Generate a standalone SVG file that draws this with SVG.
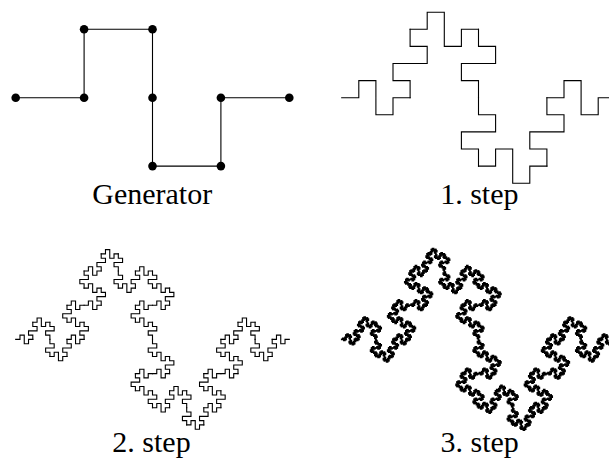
<svg xmlns="http://www.w3.org/2000/svg" xmlns:xlink="http://www.w3.org/1999/xlink" width="609" height="462" viewBox="0 0 609 462">
<style>
.curve{fill:none;stroke:#000;stroke-linecap:square;stroke-linejoin:miter}
.dot{fill:#000}
.lbl{font-family:"Liberation Serif","Times New Roman",serif;font-size:30px;fill:#000;text-anchor:middle}
</style>
<defs>
<path id="c1" d="M0 0h.25v-.25h.25v.5h.25v-.25h.25"/>
<g id="c2">
<use href="#c1" transform="scale(.25)"/>
<use href="#c1" transform="translate(.25 0) rotate(-90) scale(.25)"/>
<use href="#c1" transform="translate(.25 -.25) scale(.25)"/>
<use href="#c1" transform="translate(.5 -.25) rotate(90) scale(.25)"/>
<use href="#c1" transform="translate(.5 0) rotate(90) scale(.25)"/>
<use href="#c1" transform="translate(.5 .25) scale(.25)"/>
<use href="#c1" transform="translate(.75 .25) rotate(-90) scale(.25)"/>
<use href="#c1" transform="translate(.75 0) scale(.25)"/>
</g>
<g id="c3">
<use href="#c2" transform="scale(.25)"/>
<use href="#c2" transform="translate(.25 0) rotate(-90) scale(.25)"/>
<use href="#c2" transform="translate(.25 -.25) scale(.25)"/>
<use href="#c2" transform="translate(.5 -.25) rotate(90) scale(.25)"/>
<use href="#c2" transform="translate(.5 0) rotate(90) scale(.25)"/>
<use href="#c2" transform="translate(.5 .25) scale(.25)"/>
<use href="#c2" transform="translate(.75 .25) rotate(-90) scale(.25)"/>
<use href="#c2" transform="translate(.75 0) scale(.25)"/>
</g>
<g id="c4">
<use href="#c3" transform="scale(.25)"/>
<use href="#c3" transform="translate(.25 0) rotate(-90) scale(.25)"/>
<use href="#c3" transform="translate(.25 -.25) scale(.25)"/>
<use href="#c3" transform="translate(.5 -.25) rotate(90) scale(.25)"/>
<use href="#c3" transform="translate(.5 0) rotate(90) scale(.25)"/>
<use href="#c3" transform="translate(.5 .25) scale(.25)"/>
<use href="#c3" transform="translate(.75 .25) rotate(-90) scale(.25)"/>
<use href="#c3" transform="translate(.75 0) scale(.25)"/>
</g>
</defs>
<rect width="609" height="462" fill="#fff"/>
<g id="generator">
<polyline class="curve" stroke-width="1.1" points="15.7,97.7 84.1,97.7 84.1,29.3 152.5,29.3 152.5,97.7 152.5,166.1 220.9,166.1 220.9,97.7 289.3,97.7"/>
<g class="dot">
<circle cx="15.7" cy="97.7" r="4.3"/>
<circle cx="84.1" cy="97.7" r="4.3"/>
<circle cx="84.1" cy="29.3" r="4.3"/>
<circle cx="152.5" cy="29.3" r="4.3"/>
<circle cx="152.5" cy="97.7" r="4.3"/>
<circle cx="152.5" cy="166.1" r="4.3"/>
<circle cx="220.9" cy="166.1" r="4.3"/>
<circle cx="220.9" cy="97.7" r="4.3"/>
<circle cx="289.3" cy="97.7" r="4.3"/>
</g>
<text class="lbl" x="152.2" y="204.3">Generator</text>
</g>
<g id="step1">
<g class="curve" stroke-width="0.0161" transform="translate(341.7 97.7) scale(273.6)"><use href="#c2"/></g>
<text class="lbl" x="479.3" y="203.5">1. step</text>
</g>
<g id="step2">
<g class="curve" stroke-width="0.0643" transform="translate(15.7 339.4) scale(273.6)"><use href="#c3"/></g>
<text class="lbl" x="151.5" y="451.7">2. step</text>
</g>
<g id="step3">
<g class="curve" stroke-width="0.374" transform="translate(341.7 339.4) scale(273.6)"><use href="#c4"/></g>
<text class="lbl" x="479.7" y="451.7">3. step</text>
</g>
</svg>
